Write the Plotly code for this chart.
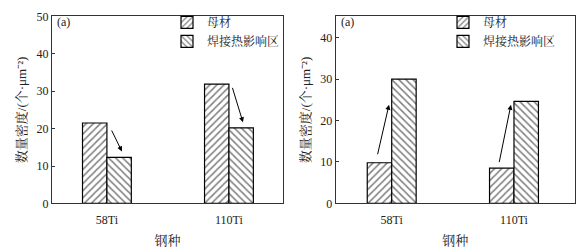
import plotly.graph_objects as go

categories = ["58Ti", "110Ti"]
left_base = [21.5, 31.9]
left_haz = [12.3, 20.2]
right_base = [9.8, 8.5]
right_haz = [30.0, 24.6]
series_names = ["母材", "焊接热影响区"]
y_title = "数量密度/(个·μm⁻²)"
x_title = "钢种"
panel_label = "(a)"
left_arrows = [((0.033, 19.9), (0.123, 13.9)), ((1.025, 31.3), (1.115, 21.7))]
right_arrows = [((-0.118, 11.5), (-0.022, 23.8)), ((0.877, 9.6), (0.975, 23.8))]

FONT = "Liberation Serif, Times New Roman, serif"
CJK = "Liberation Serif, Noto Serif CJK SC, Noto Sans CJK SC"

fig = go.Figure()

def add_bars(vals, name, shape, xa, ya, legend):
    fig.add_trace(go.Bar(
        x=categories, y=vals, name=name, xaxis=xa, yaxis=ya, legend=legend,
        marker=dict(color="white", line=dict(color="black", width=1.2),
                    pattern=dict(shape=shape, fgcolor="black", bgcolor="white",
                                 size=5, solidity=0.3)),
    ))

add_bars(left_base, series_names[0], "/", "x", "y", "legend")
add_bars(left_haz, series_names[1], "\\", "x", "y", "legend")
add_bars(right_base, series_names[0], "/", "x2", "y2", "legend2")
add_bars(right_haz, series_names[1], "\\", "x2", "y2", "legend2")

H = 251.0
W = 583.0
ydom = [(H - 208) / H, (H - 10) / H]
axis_common = dict(showline=True, linecolor="#333", linewidth=1.2, mirror=True,
                   ticks="inside", ticklen=3, tickcolor="#333",
                   tickfont=dict(family=FONT, size=12, color="#222"),
                   showgrid=False, zeroline=False)
xtitle = dict(text=x_title, font=dict(family=CJK, size=13, color="#222"), standoff=10)
ytitle = dict(text=y_title, font=dict(family=CJK, size=13, color="#222"), standoff=6)
leg = dict(bgcolor="rgba(0,0,0,0)", font=dict(family=CJK, size=12, color="#222"),
           tracegroupgap=0, itemwidth=30, xanchor="left", yanchor="top")

fig.update_layout(
    width=583, height=251, margin=dict(l=0, r=0, t=0, b=0),
    paper_bgcolor="white", plot_bgcolor="white",
    barmode="group", bargap=0.6, bargroupgap=0,
    showlegend=True,
    xaxis=dict(domain=[52 / W, 283 / W], type="category", range=[-0.45, 1.443],
               anchor="y", **{**axis_common, "ticks": ""}, ticklabelstandoff=5, title=xtitle),
    yaxis=dict(domain=ydom, range=[0, 50], dtick=10, anchor="x", **axis_common, title=ytitle),
    xaxis2=dict(domain=[335.7 / W, 575 / W], type="category", range=[-0.458, 1.499],
                anchor="y2", **{**axis_common, "ticks": ""}, ticklabelstandoff=5, title=xtitle),
    yaxis2=dict(domain=ydom, range=[0, 45.1], dtick=10, anchor="x2", **axis_common, title=ytitle),
    legend=dict(x=167 / W, y=(H - 1) / H, **leg),
    legend2=dict(x=443 / W, y=(H - 1) / H, **leg),
)

anns = []
for xr, yr in [("x", "y"), ("x2", "y2")]:
    anns.append(dict(text=panel_label, xref=f"{xr} domain", yref=f"{yr} domain", x=0.015, y=1.02,
                     xanchor="left", yanchor="top", showarrow=False,
                     font=dict(family=FONT, size=12, color="#222")))
for arrows, xr, yr in [(left_arrows, "x", "y"), (right_arrows, "x2", "y2")]:
    for (tx, ty), (hx, hy) in arrows:
        anns.append(dict(x=hx, y=hy, ax=tx, ay=ty, xref=xr, yref=yr, axref=xr, ayref=yr,
                         showarrow=True, arrowhead=2, arrowsize=1, arrowwidth=1,
                         arrowcolor="black", text=""))
fig.update_layout(annotations=anns)

fig.write_html("out.html")
